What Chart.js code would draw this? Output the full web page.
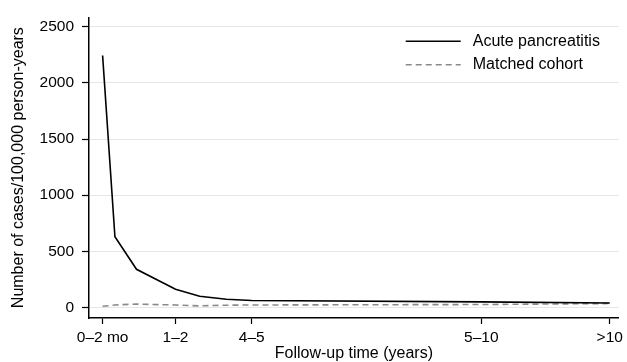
<!DOCTYPE html>
<html>
<head>
<meta charset="utf-8">
<script src="https://cdn.jsdelivr.net/npm/chart.js@4.4.1/dist/chart.umd.min.js"></script>
<style>
  html, body { margin: 0; padding: 0; background: #fff; }
  #wrap { width: 627px; height: 362px; }
</style>
</head>
<body>
<div id="wrap"><canvas id="myChart" width="627" height="362"></canvas></div>
<script>
// positions on the follow-up axis (axis units) and their labels
const xTickValues = [0.25, 3.09, 6.06, 15, 20];
const xTickLabels = ['0–2 mo', '1–2', '4–5', '5–10', '>10'];
const yTicks = [0, 500, 1000, 1500, 2000, 2500];

// follow-up intervals and incidence per 100,000 person-years
const followUpX = [0.25, 0.73, 1.57, 3.09, 4.03, 5.07, 6.06, 15, 20];
const acutePancreatitis = [2245, 630, 340, 163, 99, 73, 62, 50, 40];
const matchedCohort = [10, 22, 30, 22, 14, 20, 22, 26, 35];

const FAMILY = '"Liberation Sans", Arial, Helvetica, sans-serif';
const TICK_FONT = { family: FAMILY, size: 15.5 };
const LABEL_FONT = { family: FAMILY, size: 16 };

const toPoints = vals => vals.map((v, i) => ({ x: followUpX[i], y: v }));

// simple legend in the top-right corner of the plot
const cornerLegend = {
  id: 'cornerLegend',
  afterDraw(chart) {
    const { ctx, chartArea } = chart;
    ctx.save();
    ctx.font = `${LABEL_FONT.size}px ${FAMILY}`;
    ctx.textBaseline = 'middle';
    ctx.fillStyle = '#000';
    chart.data.datasets.forEach((ds, i) => {
      const y = chartArea.top + 24 + i * 23.5;
      ctx.beginPath();
      ctx.setLineDash(ds.borderDash || []);
      ctx.strokeStyle = ds.borderColor;
      ctx.lineWidth = ds.borderWidth;
      ctx.moveTo(chartArea.right - 213, y);
      ctx.lineTo(chartArea.right - 158, y);
      ctx.stroke();
      ctx.setLineDash([]);
      ctx.fillText(ds.label, chartArea.right - 146, y);
    });
    ctx.restore();
  }
};

const ctx = document.getElementById('myChart').getContext('2d');

const myChart = new Chart(ctx, {
  type: 'line',
  data: {
    datasets: [{
      label: 'Acute pancreatitis',
      data: toPoints(acutePancreatitis),
      borderColor: '#000',
      borderWidth: 1.6,
      pointRadius: 0,
      tension: 0
    }, {
      label: 'Matched cohort',
      data: toPoints(matchedCohort),
      borderColor: '#8a8a8a',
      borderWidth: 1.6,
      borderDash: [6, 4],
      pointRadius: 0,
      tension: 0
    }]
  },
  options: {
    responsive: false,
    animation: false,
    layout: { padding: { top: 12, right: 7, left: 0, bottom: 0 } },
    plugins: {
      legend: { display: false },
      tooltip: { enabled: false }
    },
    scales: {
      x: {
        type: 'linear',
        min: -0.28,
        max: 20.35,
        afterFit: scale => { scale.height = 44; },
        afterBuildTicks: scale => { scale.ticks = xTickValues.map(v => ({ value: v })); },
        border: { display: true, color: '#000', width: 1.5 },
        grid: { drawOnChartArea: false, drawTicks: true, tickLength: 6, tickColor: '#000', tickWidth: 1.2 },
        ticks: {
          color: '#000',
          font: TICK_FONT,
          padding: 4,
          maxRotation: 0,
          autoSkip: false,
          callback: (value, index) => xTickLabels[index]
        },
        title: {
          display: true,
          text: 'Follow-up time (years)',
          color: '#000',
          font: { ...LABEL_FONT, lineHeight: 1 },
          padding: { top: 0, bottom: 0 }
        }
      },
      y: {
        min: -94,
        max: 2585,
        afterFit: scale => { scale.width = 89; },
        afterBuildTicks: scale => { scale.ticks = yTicks.map(v => ({ value: v })); },
        border: { display: true, color: '#000', width: 1.5 },
        grid: { color: '#e6e6e6', lineWidth: 1, drawTicks: true, tickLength: 7, tickColor: '#000', tickWidth: 1.2 },
        ticks: { color: '#000', font: TICK_FONT, padding: 8, callback: value => String(value) },
        title: {
          display: true,
          text: 'Number of cases/100,000 person-years',
          color: '#000',
          font: { ...LABEL_FONT, lineHeight: 1.2 },
          padding: { top: 9, bottom: 0 }
        }
      }
    }
  },
  plugins: [cornerLegend]
});
</script>
</body>
</html>
